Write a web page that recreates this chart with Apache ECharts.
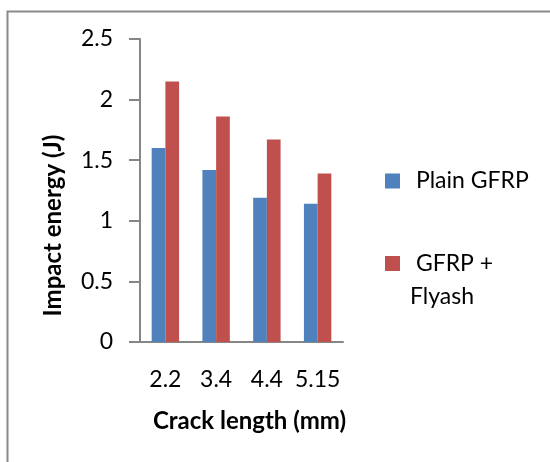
<!DOCTYPE html>
<html>
<head>
<meta charset="utf-8">
<script src="https://cdn.jsdelivr.net/npm/echarts@6/dist/echarts.min.js"></script>
<style>
html,body{margin:0;padding:0;background:#fff;}
#c{width:550px;height:462px;}
</style>
</head>
<body>
<div id="c"></div>
<script>
var categories = ['2.2', '3.4', '4.4', '5.15'];
var plainGFRP = [1.60, 1.42, 1.19, 1.14];
var gfrpFlyash = [2.15, 1.86, 1.67, 1.39];
var seriesNames = ['Plain GFRP', 'GFRP + Flyash'];
var yTicks = {min: 0, max: 2.5, interval: 0.5};
var xTitle = 'Crack length (mm)';
var yTitle = 'Impact energy (J)';

var FONT = 'Lato, "Open Sans", sans-serif';
var AX = '#868686';
var chart = echarts.init(document.getElementById('c'), null, {renderer: 'canvas'});
chart.setOption({
  animation: false,
  backgroundColor: '#fff',
  textStyle: {fontFamily: FONT},
  graphic: [{
    type: 'rect', silent: true,
    shape: {x: 7.5, y: 11.5, width: 620, height: 520},
    style: {fill: 'none', stroke: '#8a8a8a', lineWidth: 2}
  }],
  grid: {left: 140, top: 39, right: 207, bottom: 120, containLabel: false},
  legend: [{
    data: [seriesNames[0]],
    left: 385, top: 167, padding: 0,
    itemWidth: 15, itemHeight: 15, icon: 'rect',
    formatter: function (n) { return ' ' + n; },
    textStyle: {fontFamily: FONT, fontSize: 23, color: '#000', lineHeight: 28, padding: [0, 0, 0, 5]}
  }, {
    data: [seriesNames[1]],
    left: 385, top: 214, padding: 0,
    itemWidth: 15, itemHeight: 15, icon: 'rect',
    formatter: function (n) { return '{e| }\n{t| GFRP +}\n{t|Flyash}'; },
    textStyle: {
      fontFamily: FONT, fontSize: 23, color: '#000', lineHeight: 33, padding: [0, 0, 0, 5],
      rich: {
        e: {fontFamily: FONT, fontSize: 23, lineHeight: 33},
        t: {fontFamily: FONT, fontSize: 23, lineHeight: 33, color: '#000'}
      }
    }
  }],
  xAxis: {
    type: 'category',
    data: categories,
    name: xTitle,
    nameLocation: 'middle',
    nameGap: 65,
    nameTextStyle: {fontFamily: FONT, fontSize: 24, fontWeight: 'bold', color: '#000', lineHeight: 29, padding: [0, 0, 0, 16]},
    axisLine: {lineStyle: {color: AX, width: 2}},
    axisTick: {show: false},
    axisLabel: {interval: 0, fontFamily: FONT, fontSize: 23, color: '#000', lineHeight: 28, margin: 24}
  },
  yAxis: {
    type: 'value',
    min: yTicks.min, max: yTicks.max, interval: yTicks.interval,
    name: yTitle,
    nameLocation: 'middle',
    nameGap: 72,
    nameTextStyle: {fontFamily: FONT, fontSize: 24, fontWeight: 'bold', color: '#000', lineHeight: 29, padding: [0, 70, 0, 0]},
    axisLine: {show: true, lineStyle: {color: AX, width: 2}},
    axisTick: {show: true, length: 11, lineStyle: {color: AX, width: 2}},
    splitLine: {show: false},
    axisLabel: {fontFamily: FONT, fontSize: 23, color: '#000', margin: 27}
  },
  series: [{
    name: seriesNames[0], type: 'bar', data: plainGFRP,
    itemStyle: {color: '#4F81BD'}, barGap: '0%', barCategoryGap: '46%'
  }, {
    name: seriesNames[1], type: 'bar', data: gfrpFlyash,
    itemStyle: {color: '#C0504D'}, barGap: '0%', barCategoryGap: '46%'
  }]
});
</script>
</body>
</html>
